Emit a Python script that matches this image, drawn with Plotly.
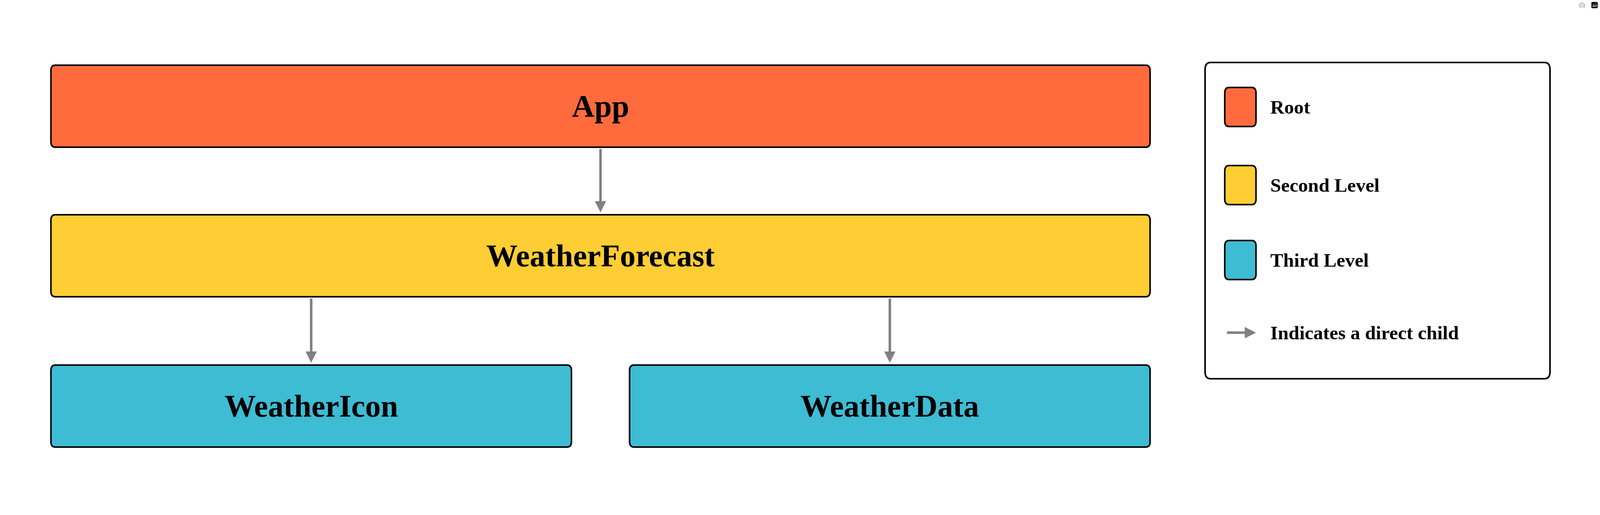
import plotly.graph_objects as go

# tree data
nodes = ["App", "WeatherForecast", "WeatherIcon", "WeatherData"]
levels = [0, 1, 2, 2]
parents = [None, "App", "WeatherForecast", "WeatherForecast"]
level_names = ["Root", "Second Level", "Third Level"]
level_colors = ["#FF6B3D", "#FFCD34", "#3DBCD4"]
arrow_label = "Indicates a direct child"

W, H = 5121, 1319
FONT = "Liberation Sans Narrow"
left, right = 163, 3681
gap = 186
row_top = [167, 550, 935]
row_h = 210


def rounded(x0, y0, x1, y1, r):
    return (f"M{x0+r},{y0} L{x1-r},{y0} Q{x1},{y0} {x1},{y0+r} L{x1},{y1-r} Q{x1},{y1} {x1-r},{y1} "
            f"L{x0+r},{y1} Q{x0},{y1} {x0},{y1-r} L{x0},{y0+r} Q{x0},{y0} {x0+r},{y0} Z")


# lay out boxes: siblings on a level share the width evenly
boxes = {}
for lv in sorted(set(levels)):
    names = [n for n, l in zip(nodes, levels) if l == lv]
    k = len(names)
    w = (right - left - gap * (k - 1)) / k
    for i, n in enumerate(names):
        x0 = left + i * (w + gap)
        boxes[n] = (x0, row_top[lv], x0 + w, row_top[lv] + row_h, lv)

fig = go.Figure()
shapes = []
annotations = []
for n, (x0, y0, x1, y1, lv) in boxes.items():
    shapes.append(dict(type="path", path=rounded(x0, y0, x1, y1, 14), fillcolor=level_colors[lv],
                       line=dict(color="black", width=5), xref="x", yref="y"))
    annotations.append(dict(x=(x0 + x1) / 2, y=(y0 + y1) / 2, text=f"<b>{n}</b>", showarrow=False,
                            font=dict(family=FONT, size=100, color="black"), xref="x", yref="y"))

for n, p in zip(nodes, parents):
    if p is None:
        continue
    cx0, cy0, cx1, cy1, _ = boxes[n]
    px0, py0, px1, py1, _ = boxes[p]
    cx = (cx0 + cx1) / 2
    annotations.append(dict(x=cx, y=cy0 - 6, ax=cx, ay=py1 + 3, xref="x", yref="y", axref="x", ayref="y",
                            text="", showarrow=True, arrowhead=2, arrowsize=0.9, arrowwidth=8,
                            arrowcolor="#808080"))

# legend panel
lx0, ly0, lx1, ly1 = 3857, 160, 4961, 970
shapes.append(dict(type="path", path=rounded(lx0, ly0, lx1, ly1, 18), fillcolor="white",
                   line=dict(color="black", width=5), xref="x", yref="y"))
row_y = [274, 474, 666, 852]
for i, (name, col) in enumerate(zip(level_names, level_colors)):
    yc = row_y[i]
    shapes.append(dict(type="path", path=rounded(3920, yc - 50, 4020, yc + 50, 14), fillcolor=col,
                       line=dict(color="black", width=5), xref="x", yref="y"))
    annotations.append(dict(x=4063, y=yc, text=f"<b>{name}</b>", showarrow=False, xanchor="left",
                            font=dict(family=FONT, size=62, color="black"), xref="x", yref="y"))
annotations.append(dict(x=4020, y=row_y[3], ax=3925, ay=row_y[3], xref="x", yref="y", axref="x", ayref="y",
                        text="", showarrow=True, arrowhead=2, arrowsize=0.9, arrowwidth=8, arrowcolor="#808080"))
annotations.append(dict(x=4063, y=row_y[3], text=f"<b>{arrow_label}</b>", showarrow=False, xanchor="left",
                        font=dict(family=FONT, size=62, color="black"), xref="x", yref="y"))

fig.update_layout(width=W, height=H, margin=dict(l=0, r=0, t=0, b=0),
                  plot_bgcolor="white", paper_bgcolor="white",
                  xaxis=dict(range=[0, W], visible=False, fixedrange=True),
                  yaxis=dict(range=[H, 0], visible=False, fixedrange=True),
                  shapes=shapes, annotations=annotations, showlegend=False)

# fit the figure to the actual window, scaling text and line widths with it
fit_js = """
document.body.style.margin = '0';
document.body.style.overflow = 'hidden';
var gd = document.getElementById('{plot_id}');
var s = window.innerWidth / %d;
var upd = {width: window.innerWidth, height: window.innerHeight};
gd.layout.annotations.forEach(function (a, i) {
  if (a.font && a.font.size) upd['annotations[' + i + '].font.size'] = a.font.size * s;
  if (a.arrowwidth) upd['annotations[' + i + '].arrowwidth'] = a.arrowwidth * s;
});
gd.layout.shapes.forEach(function (sh, i) {
  upd['shapes[' + i + '].line.width'] = sh.line.width * s;
});
Plotly.relayout(gd, upd);
""" % W
fig.write_html("out.html", post_script=fit_js)
